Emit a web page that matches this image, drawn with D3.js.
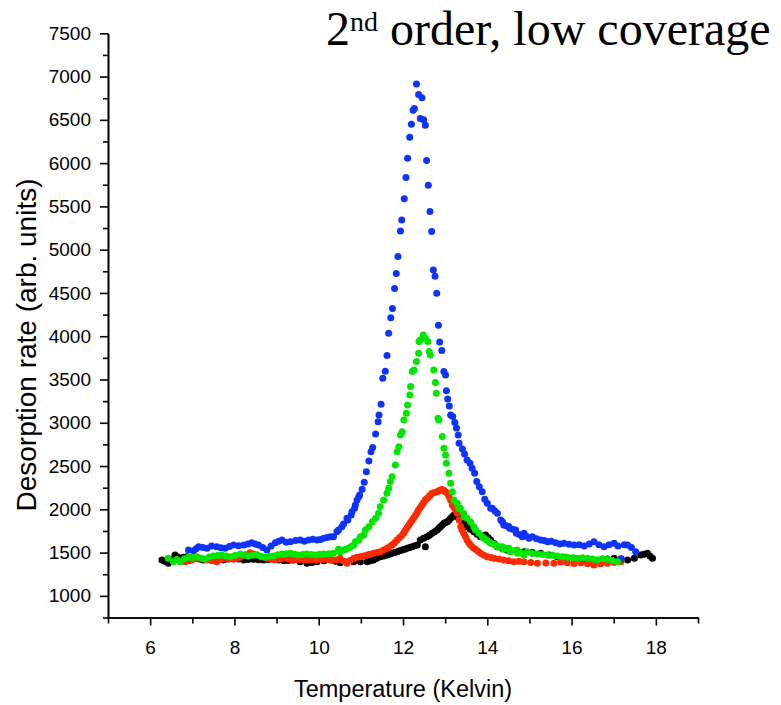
<!DOCTYPE html>
<html>
<head>
<meta charset="utf-8">
<title>2nd order, low coverage</title>
<script src="https://d3js.org/d3.v7.min.js"></script>
<style>
  body { margin: 0; background: #fff; }
  .axis path, .axis line { stroke: #000; stroke-width: 1.6px; }
  .axis text { font-family: "Liberation Sans", Arial, sans-serif; font-size: 19px; fill: #000; }
  .title { font-family: "Liberation Serif", "Times New Roman", serif; fill: #000; }
  .label { font-family: "Liberation Sans", Arial, sans-serif; fill: #000; }
</style>
</head>
<body>
<svg width="781" height="705"></svg>
<script>
// desorption rate vs temperature as [T (K), rate]
var black = [[6.28,1415],[6.35,1400],[6.43,1376],[6.51,1420],[6.59,1472],[6.65,1450],[6.71,1434],[6.79,1445],[6.87,1453],[6.97,1440],[7.07,1434],[7.17,1425],[7.26,1415],[7.38,1420],[7.50,1423],[7.62,1418],[7.74,1415],[7.86,1425],[7.98,1434],[8.10,1425],[8.22,1415],[8.33,1420],[8.45,1423],[8.57,1418],[8.69,1415],[8.81,1420],[8.93,1423],[9.05,1415],[9.17,1407],[9.28,1410],[9.40,1415],[9.56,1395],[9.72,1376],[9.84,1385],[9.96,1395],[10.12,1405],[10.28,1415],[10.40,1400],[10.51,1383],[10.67,1390],[10.83,1395],[10.99,1395],[11.15,1395],[11.23,1405],[11.30,1415],[11.38,1435],[11.46,1453],[11.54,1462],[11.62,1472],[11.68,1482],[11.74,1492],[11.80,1502],[11.86,1511],[11.92,1520],[11.98,1530],[12.04,1540],[12.10,1550],[12.16,1560],[12.22,1568],[12.28,1578],[12.34,1588],[12.41,1646],[12.49,1665],[12.53,1568],[12.57,1684],[12.63,1700],[12.69,1723],[12.75,1740],[12.81,1761],[12.85,1780],[12.89,1799],[12.93,1820],[12.97,1839],[13.01,1848],[13.05,1857],[13.09,1875],[13.13,1897],[13.17,1915],[13.21,1935],[13.25,1925],[13.29,1915],[13.33,1905],[13.36,1897],[13.41,1857],[13.46,1830],[13.52,1799],[13.60,1770],[13.68,1742],[13.76,1712],[13.84,1684],[13.90,1690],[13.96,1704],[14.02,1675],[14.08,1646],[14.16,1605],[14.24,1568],[14.36,1548],[14.47,1530],[14.67,1520],[14.87,1511],[15.07,1500],[15.27,1492],[15.47,1472],[15.66,1453],[15.86,1445],[16.06,1434],[16.22,1415],[16.38,1395],[16.53,1405],[16.69,1415],[16.85,1425],[17.01,1434],[17.17,1425],[17.33,1415],[17.49,1434],[17.64,1472],[17.72,1480],[17.80,1492],[17.86,1460],[17.92,1434]];

var red = [[6.83,1395],[6.91,1405],[6.99,1415],[7.09,1428],[7.19,1434],[7.27,1425],[7.35,1415],[7.47,1405],[7.58,1395],[7.68,1420],[7.78,1434],[7.88,1430],[7.98,1423],[8.06,1435],[8.14,1446],[8.26,1475],[8.37,1499],[8.45,1485],[8.53,1472],[8.65,1450],[8.77,1434],[8.87,1425],[8.97,1415],[9.07,1425],[9.17,1434],[9.27,1425],[9.37,1415],[9.47,1420],[9.56,1423],[9.66,1418],[9.76,1415],[9.86,1420],[9.96,1415],[10.08,1420],[10.20,1423],[10.28,1418],[10.35,1415],[10.43,1415],[10.51,1434],[10.59,1400],[10.67,1376],[10.75,1410],[10.83,1434],[10.91,1445],[10.99,1453],[11.07,1462],[11.15,1472],[11.22,1480],[11.30,1492],[11.38,1500],[11.46,1511],[11.54,1530],[11.62,1550],[11.68,1568],[11.74,1588],[11.80,1615],[11.86,1646],[11.92,1675],[11.98,1704],[12.02,1730],[12.06,1761],[12.10,1790],[12.14,1819],[12.18,1850],[12.22,1877],[12.26,1905],[12.30,1935],[12.34,1965],[12.37,1992],[12.41,2020],[12.45,2050],[12.49,2080],[12.53,2108],[12.57,2125],[12.61,2146],[12.65,2165],[12.69,2185],[12.75,2195],[12.81,2204],[12.85,2215],[12.89,2224],[12.93,2230],[12.97,2216],[13.01,2200],[13.05,2185],[13.09,2150],[13.13,2108],[13.17,2050],[13.21,2020],[13.25,1992],[13.29,1954],[13.33,1877],[13.37,1799],[13.40,1760],[13.44,1723],[13.48,1685],[13.52,1646],[13.56,1615],[13.60,1588],[13.66,1560],[13.72,1538],[13.78,1515],[13.84,1492],[13.92,1470],[14.00,1453],[14.08,1442],[14.16,1434],[14.28,1425],[14.39,1415],[14.51,1405],[14.63,1395],[14.75,1400],[14.87,1395],[15.03,1385],[15.19,1376],[15.39,1380],[15.58,1376],[15.74,1390],[15.90,1383],[16.06,1375],[16.22,1383],[16.38,1370],[16.53,1357],[16.69,1370],[16.85,1376],[17.01,1385],[17.17,1395]];

var blue = [[6.91,1530],[7.03,1522],[7.09,1545],[7.15,1568],[7.25,1560],[7.35,1550],[7.46,1575],[7.58,1568],[7.68,1556],[7.78,1550],[7.88,1570],[7.98,1588],[8.10,1580],[8.22,1588],[8.32,1600],[8.41,1615],[8.49,1598],[8.57,1588],[8.67,1560],[8.77,1530],[8.87,1575],[8.97,1615],[9.05,1630],[9.13,1646],[9.23,1620],[9.33,1626],[9.45,1640],[9.56,1646],[9.66,1630],[9.76,1646],[9.86,1655],[9.96,1646],[10.04,1650],[10.12,1665],[10.20,1675],[10.28,1684],[10.35,1684],[10.43,1742],[10.47,1761],[10.55,1799],[10.59,1831],[10.67,1897],[10.69,1877],[10.77,1935],[10.79,1973],[10.85,2012],[10.87,2050],[10.91,2108],[10.95,2146],[10.97,2166],[11.03,2232],[11.08,2313],[11.13,2435],[11.19,2559],[11.24,2666],[11.28,2713],[11.35,2871],[11.41,3013],[11.43,3090],[11.48,3214],[11.52,3515],[11.58,3596],[11.62,3776],[11.66,4035],[11.71,4212],[11.75,4321],[11.80,4550],[11.84,4724],[11.88,4920],[11.94,5217],[11.97,5344],[12.03,5587],[12.07,5833],[12.11,6057],[12.16,6300],[12.20,6450],[12.24,6612],[12.27,6631],[12.32,6913],[12.37,6792],[12.41,6515],[12.45,6754],[12.49,6500],[12.53,6439],[12.56,6030],[12.60,5745],[12.64,5440],[12.68,5209],[12.72,4766],[12.76,4694],[12.80,4497],[12.84,4127],[12.87,3934],[12.92,3834],[12.97,3591],[13.01,3553],[13.03,3371],[13.06,3275],[13.10,3195],[13.13,3090],[13.18,3071],[13.23,3002],[13.27,2940],[13.31,2859],[13.33,2763],[13.41,2698],[13.46,2640],[13.52,2570],[13.59,2532],[13.64,2474],[13.70,2417],[13.75,2320],[13.81,2262],[13.88,2204],[13.94,2116],[14.00,2070],[14.08,2012],[14.12,2012],[14.18,1980],[14.24,1954],[14.32,1877],[14.36,1857],[14.39,1819],[14.45,1810],[14.51,1800],[14.53,1780],[14.60,1770],[14.67,1761],[14.69,1723],[14.76,1710],[14.83,1684],[14.87,1723],[14.93,1690],[14.99,1665],[15.07,1684],[15.17,1660],[15.27,1646],[15.35,1640],[15.43,1626],[15.52,1630],[15.62,1615],[15.72,1600],[15.82,1608],[15.94,1595],[16.06,1588],[16.18,1590],[16.30,1576],[16.42,1600],[16.53,1626],[16.65,1590],[16.77,1568],[16.89,1590],[17.01,1608],[17.10,1575],[17.18,1430],[17.25,1590],[17.33,1588],[17.42,1560],[17.52,1511]];

var green = [[6.43,1434],[6.55,1395],[6.63,1420],[6.71,1395],[6.81,1430],[6.91,1446],[7.01,1440],[7.11,1453],[7.21,1435],[7.31,1423],[7.40,1450],[7.50,1461],[7.60,1465],[7.70,1472],[7.80,1460],[7.90,1453],[8.02,1470],[8.14,1484],[8.24,1470],[8.33,1461],[8.43,1470],[8.53,1472],[8.63,1455],[8.73,1446],[8.83,1455],[8.93,1461],[9.03,1475],[9.13,1484],[9.23,1488],[9.33,1492],[9.43,1480],[9.52,1472],[9.62,1478],[9.72,1484],[9.82,1478],[9.92,1472],[10.02,1480],[10.12,1484],[10.24,1488],[10.35,1492],[10.47,1538],[10.51,1511],[10.59,1530],[10.65,1540],[10.71,1550],[10.77,1570],[10.83,1588],[10.87,1626],[10.95,1646],[10.99,1684],[11.07,1704],[11.11,1761],[11.19,1799],[11.27,1857],[11.35,1897],[11.42,1954],[11.46,2031],[11.54,2108],[11.62,2185],[11.66,2243],[11.70,2320],[11.74,2377],[11.82,2513],[11.86,2666],[11.90,2724],[11.94,2859],[11.98,2897],[12.02,3033],[12.08,3110],[12.11,3206],[12.16,3322],[12.18,3418],[12.22,3591],[12.26,3611],[12.32,3707],[12.37,3804],[12.38,3938],[12.41,3957],[12.48,4015],[12.53,3977],[12.59,3938],[12.62,3822],[12.65,3784],[12.73,3611],[12.77,3464],[12.79,3341],[12.83,3052],[12.85,3033],[12.93,2840],[12.97,2706],[13.01,2628],[13.03,2532],[13.09,2417],[13.13,2301],[13.17,2204],[13.21,2108],[13.29,2070],[13.32,2012],[13.36,2012],[13.44,1954],[13.45,1915],[13.52,1897],[13.60,1857],[13.68,1799],[13.72,1761],[13.80,1723],[13.88,1684],[13.92,1665],[13.98,1645],[14.04,1626],[14.08,1608],[14.14,1598],[14.20,1588],[14.24,1568],[14.30,1565],[14.36,1568],[14.39,1538],[14.45,1545],[14.51,1550],[14.55,1511],[14.63,1520],[14.71,1530],[14.72,1492],[14.80,1495],[14.87,1472],[14.95,1511],[15.07,1490],[15.19,1484],[15.31,1478],[15.43,1472],[15.55,1468],[15.66,1461],[15.78,1452],[15.90,1446],[16.02,1440],[16.14,1434],[16.26,1440],[16.38,1434],[16.50,1425],[16.61,1415],[16.73,1430],[16.85,1423],[16.97,1410],[17.09,1395]];

var xMajor = [6, 8, 10, 12, 14, 16, 18];
var xMinor = [5, 7, 9, 11, 13, 15, 17, 19];
var yMajor = [1000, 1500, 2000, 2500, 3000, 3500, 4000, 4500, 5000, 5500, 6000, 6500, 7000, 7500];
var yMinor = [750, 1250, 1750, 2250, 2750, 3250, 3750, 4250, 4750, 5250, 5750, 6250, 6750, 7250];

var svg = d3.select("svg");

var x = d3.scaleLinear().domain([5, 19]).range([108, 698]);
var y = d3.scaleLinear().domain([750, 7500]).range([617.5, 33.3]);

// minor ticks first, major axes on top
svg.append("g").attr("class", "axis")
    .attr("transform", "translate(0,617.5)")
    .call(d3.axisBottom(x).tickValues(xMinor).tickSize(6).tickSizeOuter(0).tickFormat(""));
svg.append("g").attr("class", "axis")
    .attr("transform", "translate(108,0)")
    .call(d3.axisLeft(y).tickValues(yMinor).tickSize(5).tickSizeOuter(0).tickFormat(""));

svg.append("g").attr("class", "axis")
    .attr("transform", "translate(0,617.5)")
    .call(d3.axisBottom(x).tickValues(xMajor).tickSize(8).tickSizeOuter(0).tickPadding(15)
      .tickFormat(d3.format("d")));
svg.append("g").attr("class", "axis")
    .attr("transform", "translate(108,0)")
    .call(d3.axisLeft(y).tickValues(yMajor).tickSize(8).tickSizeOuter(0).tickPadding(9)
      .tickFormat(d3.format("d")));

var series = [
  {data: black, color: "#000000"},
  {data: red, color: "#ff2a00"},
  {data: blue, color: "#0f33ff"},
  {data: green, color: "#00e600"}
];

series.forEach(function(s) {
  svg.append("g")
    .selectAll("circle")
    .data(s.data)
    .enter().append("circle")
      .attr("cx", function(d) { return x(d[0]); })
      .attr("cy", function(d) { return y(d[1]); })
      .attr("r", 3.5)
      .attr("fill", s.color);
});

// axis titles
svg.append("text")
    .attr("class", "label")
    .attr("x", 403)
    .attr("y", 697)
    .attr("text-anchor", "middle")
    .attr("font-size", 23.5)
    .text("Temperature (Kelvin)");

svg.append("text")
    .attr("class", "label")
    .attr("transform", "translate(36,345) rotate(-90)")
    .attr("text-anchor", "middle")
    .attr("font-size", 28)
    .text("Desorption rate (arb. units)");

// title with superscript
var t = svg.append("text")
    .attr("class", "title")
    .attr("x", 326)
    .attr("y", 45)
    .attr("font-size", 48);
t.append("tspan").text("2");
t.append("tspan").attr("font-size", 28).attr("dy", -14).text("nd");
t.append("tspan").attr("dy", 14).text(" order, low coverage");
</script>
</body>
</html>
